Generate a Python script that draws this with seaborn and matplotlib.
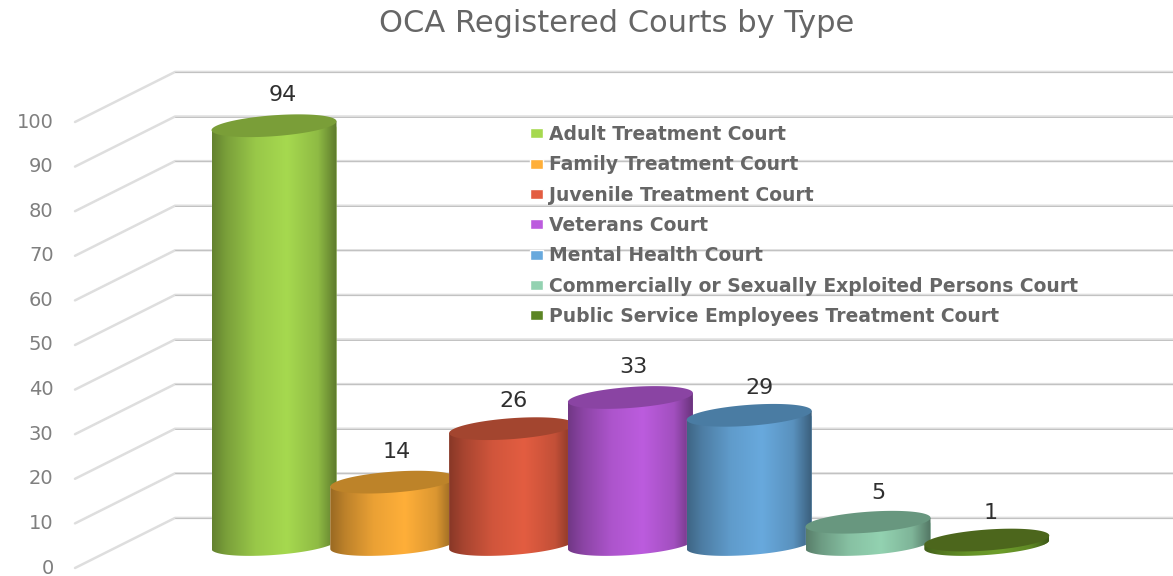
import numpy as np
import pandas as pd
import matplotlib
matplotlib.use('Agg')
import matplotlib.pyplot as plt
import matplotlib.colors as mcolors
from matplotlib.path import Path
from matplotlib.patches import PathPatch
import seaborn as sns

courts = ['Adult Treatment Court', 'Family Treatment Court', 'Juvenile Treatment Court',
          'Veterans Court', 'Mental Health Court',
          'Commercially or Sexually Exploited Persons Court',
          'Public Service Employees Treatment Court']
counts = [94, 14, 26, 33, 29, 5, 1]
side_colors = ['#A6D94F', '#FFAF39', '#E35D41', '#BC5CDE', '#68A9DD', '#93D2B1', '#6E9E2B']
top_colors = ['#7A9E38', '#BD8329', '#A3452F', '#8A44A3', '#4A7CA3', '#68977F', '#4C661C']
legend_colors = ['#A6D94F', '#FFAF39', '#E35D41', '#BC5CDE', '#68A9DD', '#93D2B1', '#5C8524']
y_ticks = list(range(0, 101, 10))
title = 'OCA Registered Courts by Type'

W, H, DPI = 1173, 576, 100
GREY = '#7f7f7f'
PX_PER_UNIT = 4.455
BAR_STEP = 118.8
BASE_PX = 544.5

sns.set_theme(style='white')
plt.rcParams['font.family'] = 'DejaVu Sans'

fig = plt.figure(figsize=(W / DPI, H / DPI), dpi=DPI)

# back wall + value scale: x in pixels, y in chart values
ax_wall = fig.add_axes([73 / W, (H - 568) / H, (W - 73) / W, 446 / H])
ax_wall.set_xlim(73, W)
ax_wall.set_ylim(0, 100)
ax_wall.set_xticks([])
ax_wall.set_yticks(y_ticks)
ax_wall.tick_params(axis='y', length=0, pad=14, labelsize=14, labelcolor=GREY)
for lab in ax_wall.get_yticklabels():
    lab.set_va('center')
sns.despine(ax=ax_wall, left=True, bottom=True)
ax_wall.patch.set_alpha(0)
rise = 50 / PX_PER_UNIT
for t in y_ticks:
    ax_wall.plot([75, 175, W], [t, t + rise, t + rise], color='#dedede', lw=1.8,
                 clip_on=False, solid_joinstyle='round', zorder=1)
    ax_wall.plot([175, W], [t + rise, t + rise], color='#c2c2c2', lw=0.7,
                 clip_on=False, zorder=1.1)

# bars, on top of the wall, scale matched to the picture
ax = fig.add_axes([0, 0, 1, 1])
df = pd.DataFrame({'court': courts, 'count': counts})
sns.barplot(data=df, x='court', y='count', hue='court', palette=dict(zip(courts, legend_colors)),
            width=125 / BAR_STEP, dodge=False, legend=True, saturation=1, ax=ax)
xlim = (-274 / BAR_STEP, (W - 274) / BAR_STEP)
ylim = (-(H - BASE_PX) / PX_PER_UNIT, BASE_PX / PX_PER_UNIT)

ell_b = 2.35
ell_s = 1.0
shade_pos = [0, 0.12, 0.35, 0.6, 0.85, 1]
shade_val = [0.6, 0.74, 0.92, 1.0, 0.86, 0.56]
ramp = np.interp(np.linspace(0, 1, 256), shade_pos, shade_val)
label_dx = [9, 4, 2, 3, 10, 10, 4]
label_dy = [31, 30, 28, 30, 27, 29, 27]

for i, cont in enumerate(ax.containers):
    bar = cont[0]
    x0, w, v = bar.get_x(), bar.get_width(), bar.get_height()
    cx, a = x0 + w / 2, w / 2
    z = 3 + i

    # body: front half of the base ellipse, straight up to the top ellipse ends
    t = np.linspace(np.pi, 2 * np.pi, 60)
    bx = cx + a * np.cos(t)
    by = ell_b * np.sin(t) + ell_s * np.cos(t)
    body = np.vstack([np.column_stack([bx, by]), [cx + a, v + ell_s], [cx - a, v - ell_s], [bx[0], by[0]]])
    body_path = Path(body)
    bar.set_zorder(z)
    bar.set_clip_path(body_path, ax.transData)

    rgb = np.array(mcolors.to_rgb(side_colors[i]))
    grad = (ramp[:, None] * rgb)[None, :, :]
    im = ax.imshow(grad, extent=(x0, x0 + w, -ell_b - ell_s, v + ell_s), aspect='auto',
                   zorder=z + 0.1, interpolation='bilinear')
    im.set_clip_path(body_path, ax.transData)

    # cap
    t = np.linspace(0, 2 * np.pi, 120)
    cap = np.column_stack([cx + a * np.cos(t), v + ell_b * np.sin(t) + ell_s * np.cos(t)])
    ax.add_patch(PathPatch(Path(cap), facecolor=top_colors[i], edgecolor='none', zorder=z + 0.2))

    ax.annotate(str(counts[i]), (cx, v), xytext=(label_dx[i] * 72 / DPI, label_dy[i] * 72 / DPI),
                textcoords='offset points', ha='center', va='center', fontsize=16,
                color='#2f2f2f', zorder=20)

ax.set_xlim(*xlim)
ax.set_ylim(*ylim)
ax.axis('off')

sns.move_legend(ax, 'upper left', bbox_to_anchor=(530 / W, (H - 125) / H), title=None, frameon=False,
                fontsize=13.5, labelspacing=0.605, handlelength=0.7, handleheight=0.43,
                handletextpad=0.33, borderpad=0, borderaxespad=0)
leg = ax.get_legend()
leg.set_zorder(30)
for txt in leg.get_texts():
    txt.set_fontweight('bold')
    txt.set_color('#666666')

fig.text(617 / W, (H - 24) / H, title, ha='center', va='center', fontsize=22, color='#666666')

fig.savefig('out.png', dpi=DPI)
plt.close(fig)
